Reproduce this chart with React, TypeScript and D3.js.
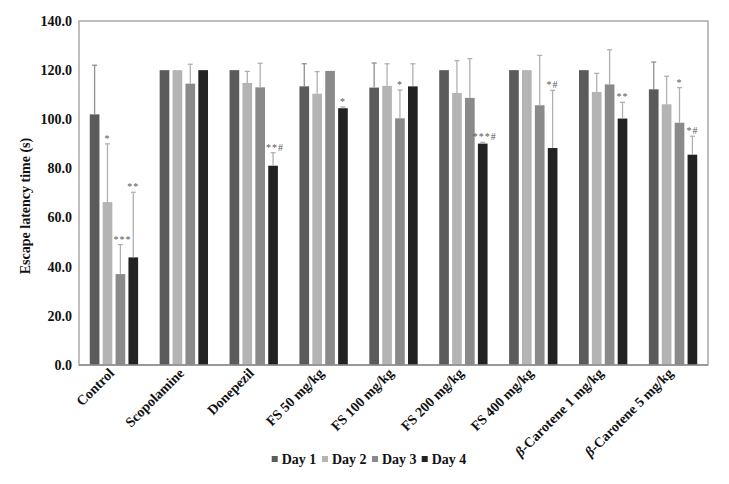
import React from "react";
import * as d3 from "d3";

const categories = [
  "Control",
  "Scopolamine",
  "Donepezil",
  "FS 50 mg/kg",
  "FS 100 mg/kg",
  "FS 200 mg/kg",
  "FS 400 mg/kg",
  "β-Carotene 1 mg/kg",
  "β-Carotene 5 mg/kg",
];
const days = ["Day 1", "Day 2", "Day 3", "Day 4"];
const colors = ["#5b5b5b", "#b4b4b4", "#8a8a8a", "#222222"];

const day1 = [102.0, 120.0, 120.0, 113.4, 112.9, 120.0, 120.0, 120.0, 112.2];
const day2 = [66.3, 120.0, 114.8, 110.4, 113.6, 110.7, 120.0, 111.1, 106.1];
const day3 = [37.0, 114.5, 113.0, 119.7, 100.4, 108.7, 105.7, 114.2, 98.6];
const day4 = [43.8, 120.0, 81.1, 104.5, 113.4, 90.1, 88.3, 100.3, 85.6];

const err1 = [20.0, 0.0, 0.0, 9.2, 10.0, 0.0, 0.0, 0.0, 11.1];
const err2 = [23.7, 0.0, 4.7, 9.0, 9.0, 13.2, 0.0, 7.6, 11.4];
const err3 = [12.0, 7.9, 9.8, 0.0, 11.5, 16.0, 20.3, 14.1, 14.3];
const err4 = [26.5, 0.0, 5.3, 0.5, 9.2, 0.5, 23.5, 6.6, 7.5];

const sig1 = ["", "", "", "", "", "", "", "", ""];
const sig2 = ["*", "", "", "", "", "", "", "", ""];
const sig3 = ["***", "", "", "", "*", "", "", "", "*"];
const sig4 = ["**", "", "**#", "*", "", "***#", "*#", "**", "*#"];

const yTicks = [0, 20, 40, 60, 80, 100, 120, 140];

const values = [day1, day2, day3, day4];
const errors = [err1, err2, err3, err4];
const sigs = [sig1, sig2, sig3, sig4];

const FONT = "'Liberation Serif', 'DejaVu Serif', serif";

export default function App() {
  const W = 729;
  const H = 484;
  const left = 79;
  const right = 708;
  const top = 21;
  const bottom = 365;

  const y = d3.scaleLinear().domain([0, 140]).range([bottom, top]);
  const p = 0.262;
  const x0 = d3
    .scaleBand<string>()
    .domain(categories)
    .range([left, right])
    .paddingInner(p)
    .paddingOuter(p / 2);
  const x1 = d3
    .scaleBand<string>()
    .domain(days)
    .range([0, x0.bandwidth()])
    .paddingInner(0.25)
    .paddingOuter(0.125);
  const bw = x1.bandwidth();

  const legendX = [271.7, 322, 372, 421.7];

  return (
    <svg
      width={W}
      height={H}
      style={{ position: "absolute", left: 0, top: 0, background: "#fff" }}
      fontFamily={FONT}
    >
      <rect x={0} y={0} width={W} height={H} fill="#fff" />
      {/* plot frame */}
      <rect
        x={left}
        y={top}
        width={right - left}
        height={bottom - top}
        fill="none"
        stroke="#a9a9a9"
        strokeWidth={1.5}
      />
      {/* bars */}
      {categories.map((c, i) => (
        <g key={c} transform={`translate(${x0(c)},0)`}>
          {days.map((d, k) => {
            const v = values[k][i];
            const e = errors[k][i];
            const bx = x1(d)!;
            const cx = bx + bw / 2;
            const yt = y(v + e);
            return (
              <g key={d}>
                <rect
                  x={bx}
                  y={y(v)}
                  width={bw}
                  height={y(0) - y(v)}
                  fill={colors[k]}
                />
                {e > 0.3 && (
                  <g stroke={k === 0 ? "#8f8f8f" : "#b0b0b0"} strokeWidth={1.3}>
                    <line x1={cx} x2={cx} y1={y(v)} y2={yt} />
                    <line x1={cx - 2.5} x2={cx + 2.5} y1={yt} y2={yt} />
                  </g>
                )}
                {sigs[k][i] && (
                  <text
                    x={cx + (sigs[k][i].length > 2 ? 2 : 0)}
                    y={yt - 2}
                    textAnchor="middle"
                    fontSize={10}
                    fill="#5a5a5a"
                    letterSpacing={1}
                  >
                    {sigs[k][i]}
                  </text>
                )}
              </g>
            );
          })}
        </g>
      ))}
      {/* x axis line */}
      <line x1={left} x2={right} y1={bottom} y2={bottom} stroke="#8c8c8c" strokeWidth={1.5} />
      {/* y tick labels */}
      {yTicks.map((t) => (
        <text
          key={t}
          x={72}
          y={y(t)}
          dy="0.35em"
          textAnchor="end"
          fontSize={14}
          fontWeight="bold"
          fill="#111"
        >
          {t.toFixed(1)}
        </text>
      ))}
      {/* y title */}
      <text
        transform={`translate(30,206) rotate(-90)`}
        textAnchor="middle"
        fontSize={14}
        fontWeight="bold"
        fill="#111"
      >
        Escape latency time (s)
      </text>
      {/* x labels */}
      {categories.map((c) => {
        const cx = x0(c)! + x0.bandwidth() / 2 + 1;
        const isBeta = c.startsWith("β");
        return (
          <text
            key={c}
            transform={`translate(${cx},${bottom + 9}) rotate(-45)`}
            textAnchor="end"
            fontSize={14}
            fontWeight="bold"
            fill="#111"
          >
            {isBeta ? (
              <>
                <tspan fontStyle="italic">β</tspan>
                {c.slice(1)}
              </>
            ) : (
              c
            )}
          </text>
        );
      })}
      {/* legend */}
      {days.map((d, k) => (
        <g key={d} transform={`translate(${legendX[k]},459)`}>
          <rect x={0} y={-3} width={6} height={6} fill={colors[k]} />
          <text x={10} y={0} dy="0.35em" fontSize={14} fontWeight="bold" fill="#111">
            {d}
          </text>
        </g>
      ))}
    </svg>
  );
}
